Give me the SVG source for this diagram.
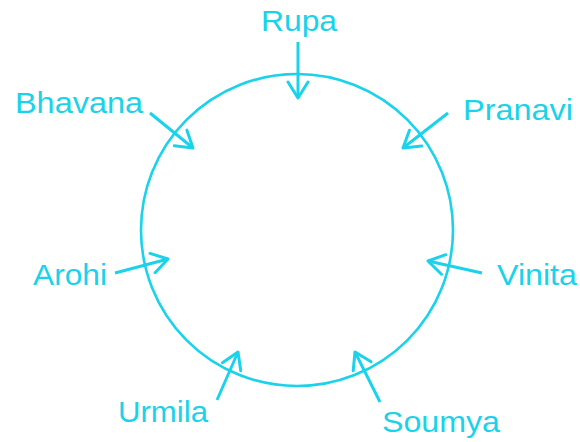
<svg xmlns="http://www.w3.org/2000/svg" width="580" height="442" viewBox="0 0 580 442">
<defs>
<style>
.lbl{font-family:"Liberation Sans",Arial,sans-serif;font-size:29px;fill:#1ad2ea}
.ring{fill:none;stroke:#1ad2ea;stroke-width:2.6}
.arr{fill:none;stroke:#1ad2ea;stroke-width:3;marker-end:url(#ah)}
</style>
<marker id="ah" viewBox="-18 -12 20 24" markerWidth="20" markerHeight="24" refX="0" refY="0" orient="auto" markerUnits="userSpaceOnUse">
<polyline points="-16,-10 0,0 -16,10" fill="none" stroke="#1ad2ea" stroke-width="3" stroke-linecap="round" stroke-linejoin="round"/>
</marker>
</defs>
<rect width="580" height="442" fill="#ffffff"/>
<g id="circle"><circle class="ring" cx="297" cy="230" r="156"/></g>
<g id="connectors">
<line class="arr" x1="298" y1="42" x2="298" y2="98"/>
<line class="arr" x1="150" y1="113" x2="193" y2="148"/>
<line class="arr" x1="448" y1="113" x2="403" y2="148"/>
<line class="arr" x1="115" y1="273" x2="168" y2="259"/>
<line class="arr" x1="482" y1="273" x2="428" y2="261"/>
<line class="arr" x1="217" y1="400" x2="238" y2="352"/>
<line class="arr" x1="380" y1="402" x2="355" y2="352"/>
</g>
<g id="rupa"><text class="lbl" x="261" y="31" textLength="76" lengthAdjust="spacingAndGlyphs">Rupa</text></g>
<g id="bhavana"><text class="lbl" x="15" y="113" textLength="128" lengthAdjust="spacingAndGlyphs">Bhavana</text></g>
<g id="pranavi"><text class="lbl" x="463" y="120" textLength="110" lengthAdjust="spacingAndGlyphs">Pranavi</text></g>
<g id="arohi"><text class="lbl" x="33" y="285" textLength="74" lengthAdjust="spacingAndGlyphs">Arohi</text></g>
<g id="vinita"><text class="lbl" x="497" y="285" textLength="80" lengthAdjust="spacingAndGlyphs">Vinita</text></g>
<g id="urmila"><text class="lbl" x="118" y="422" textLength="90" lengthAdjust="spacingAndGlyphs">Urmila</text></g>
<g id="soumya"><text class="lbl" x="382" y="432" textLength="118" lengthAdjust="spacingAndGlyphs">Soumya</text></g>
</svg>
